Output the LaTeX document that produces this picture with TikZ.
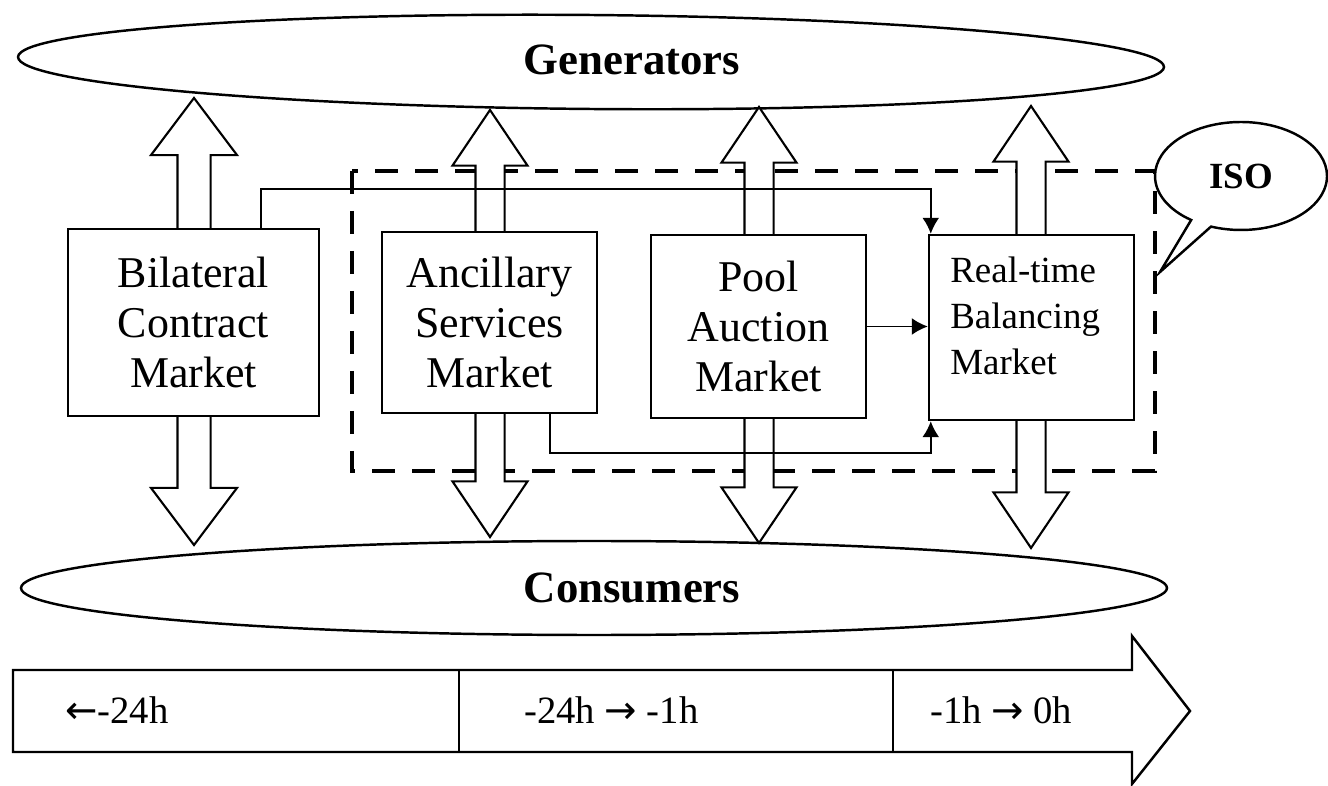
\documentclass[tikz,border=0pt]{standalone}
\usepackage{fontspec}
\setmainfont{Liberation Serif}
\newfontfamily\arrowfont{DejaVu Sans}
\usetikzlibrary{shapes.geometric,shapes.arrows,shapes.callouts,arrows.meta}

\begin{document}
\begin{tikzpicture}[
    market/.style={draw, line width=1.4pt, fill=white, inner sep=0pt, align=center,
        font=\fontsize{25}{28.5}\selectfont},
    oval/.style={draw, ellipse, line width=1.4pt, inner sep=0pt,
        minimum width=22.92cm, minimum height=1.88cm},
    flow/.style={draw, double arrow, rotate=90, fill=white, line width=1.2pt,
        inner xsep=0pt, inner ysep=0.27cm, minimum width=1.46cm,
        double arrow head extend=0.46cm, double arrow tip angle=68},
    conn/.style={draw, line width=1pt, -{Latex[length=3.2mm,width=3.4mm]}},
    big/.style={font=\fontsize{25.5}{30}\selectfont\bfseries},
    tl/.style={anchor=west, inner sep=0pt, font=\fontsize{22}{26}\selectfont}
]
    \useasboundingbox (0,0) rectangle (26.56,15.70);

    % ISO area
    \draw[line width=2.8pt, dash pattern=on 0.46cm off 0.34cm] (7.04,12.28) rectangle (23.10,6.28);

    \node[oval, rotate=-0.5] (gen) at (11.82,14.46) {};
    \node[oval] (con) at (11.88,3.94) {};
    \node[big] (gentxt) at (12.64,14.50) {Generators};
    \node[big] (contxt) at (12.64,3.94) {Consumers};

    % trading flows
    \node[flow, minimum height=8.94cm, inner ysep=0.31cm, minimum width=1.68cm,
        double arrow head extend=0.53cm, double arrow tip angle=74] (f1) at (3.88,9.27) {};
    \node[flow, minimum height=8.54cm] (f2) at (9.80,9.23) {};
    \node[flow, minimum height=8.72cm] (f3) at (15.18,9.20) {};
    \node[flow, minimum height=8.84cm] (f4) at (20.62,9.16) {};

    \node[market, minimum width=5.02cm, minimum height=3.74cm] (bil) at (3.87,9.25) {Bilateral\\Contract\\Market};
    \node[market, minimum width=4.30cm, minimum height=3.62cm] (anc) at (9.79,9.25) {Ancillary\\Services\\Market};
    \node[market, minimum width=4.30cm, minimum height=3.66cm] (pool) at (15.17,9.17) {Pool\\Auction\\Market};
    \node[market, minimum width=4.10cm, minimum height=3.70cm] (bal) at (20.63,9.15) {};
    \node[anchor=west, inner sep=0pt, align=left, font=\fontsize{21}{26}\selectfont]
        (baltxt) at ([yshift=0.23cm]bal.center -| 19.00,0) {Real-time\\Balancing\\Market};

    \path[conn] ([xshift=1.35cm]bil.north) -- ++(0,0.78) -| ([xshift=0.06cm]bal.north west);
    \path[conn] (pool.east) -- (pool.east -| bal.west);
    \path[conn] ([xshift=1.21cm]anc.south) -- ++(0,-0.78) -| ([xshift=0.06cm]bal.south west);

    \node[ellipse callout, draw, line width=1.4pt, fill=white, inner sep=0pt,
        minimum width=3.44cm, minimum height=2.16cm,
        callout absolute pointer={(23.20,10.26)},
        font=\fontsize{21}{24}\selectfont\bfseries] (iso) at (24.82,12.18) {ISO};

    % time line
    \draw[line width=1.4pt] (0.26,2.30) -- (22.64,2.30) -- (22.64,2.98) -- (23.80,1.48)
        -- (22.64,0.02) -- (22.64,0.66) -- (0.26,0.66) -- cycle;
    \draw[line width=1pt] (9.18,2.30) -- (9.18,0.66);
    \draw[line width=1pt] (17.86,2.30) -- (17.86,0.66);
    \node[tl] (t1) at (1.30,1.50) {{\arrowfont ←}-24h};
    \node[tl] (t2) at (10.48,1.50) {-24h {\arrowfont →} -1h};
    \node[tl] (t3) at (18.60,1.50) {-1h {\arrowfont →} 0h};
\end{tikzpicture}
\end{document}
